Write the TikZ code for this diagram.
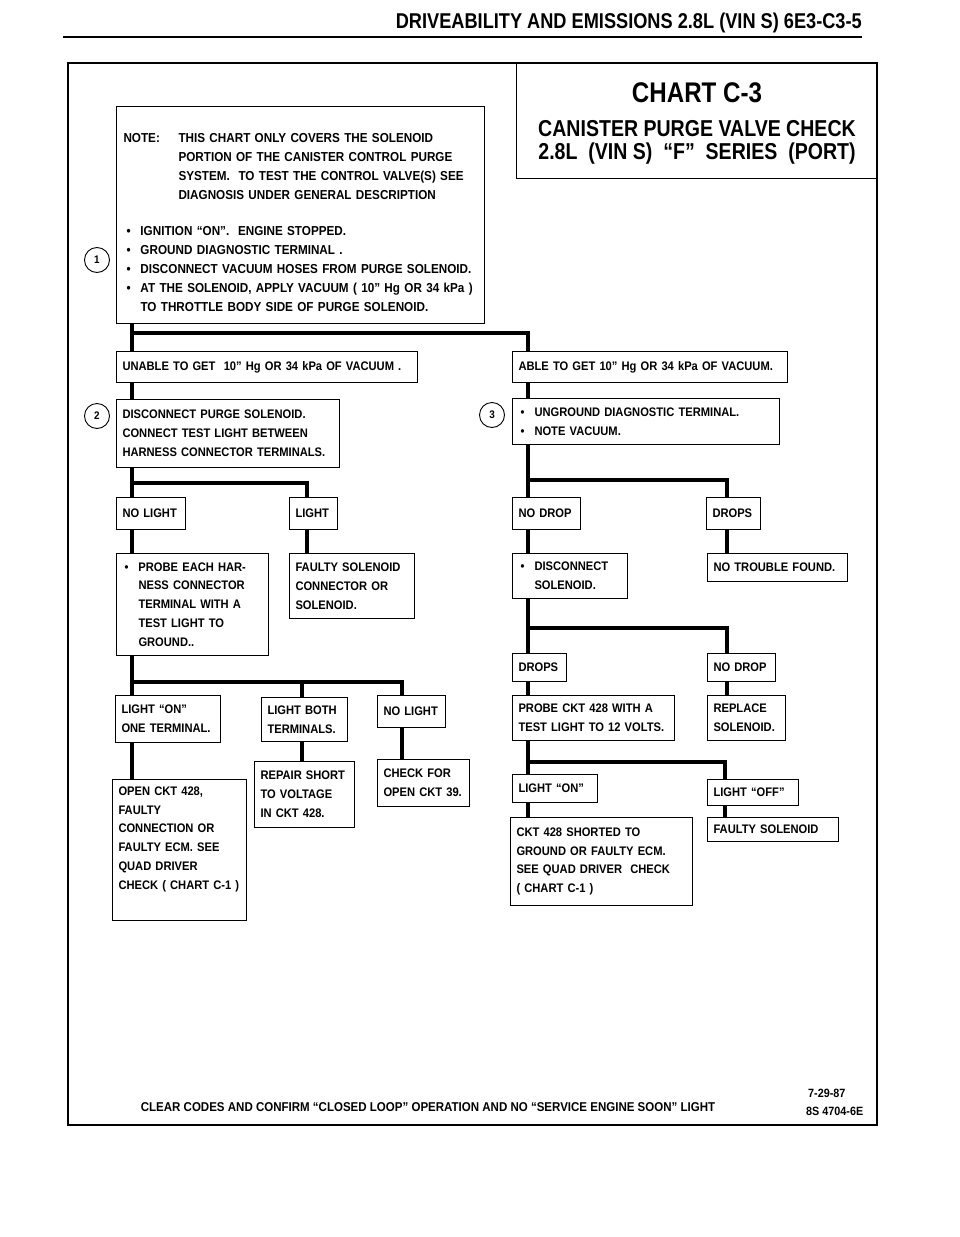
\documentclass[tikz,border=0pt]{standalone}
\usepackage{fontspec}
\newfontfamily\chartfont[FakeStretch=0.9]{Liberation Sans}
\newfontfamily\headfont[FakeStretch=0.85]{Liberation Sans}
\usetikzlibrary{positioning, calc}

\newcommand{\boxfont}{\chartfont\bfseries\fontsize{12.4}{18.8}\selectfont}
\newcommand{\bul}{\makebox[16pt][l]{\hspace{2pt}\textbullet}}
\newcommand{\ind}{\hspace*{16pt}}

\tikzset{
  chartbox/.style={draw, line width=1pt, anchor=north west, align=left,
                   inner xsep=6pt, inner ysep=0pt, font=\boxfont},
  trunk/.style={line width=3.4pt},
  stepno/.style={draw, circle, line width=0.9pt, minimum size=25pt, inner sep=0pt,
                 font=\chartfont\bfseries\fontsize{11}{11}\selectfont},
}

\begin{document}
\begin{tikzpicture}[x=1pt, y=-1pt]
\useasboundingbox (0,0) rectangle (960,1237);

% page head
\node[anchor=base east, inner sep=0pt, font=\headfont\bfseries\fontsize{21.4}{22}\selectfont] (head) at (862,28) {DRIVEABILITY AND EMISSIONS 2.8L (VIN S) 6E3-C3-5};
\draw[line width=2pt] (63,37) -- (862,37);

% frame and title
\draw[line width=1.4pt] (68,63) rectangle (877,1125);
\node[draw, line width=1.2pt, anchor=north west, minimum width=361pt, minimum height=115pt] (title) at (516,63) {};
\node[inner sep=0pt, font=\headfont\bfseries\fontsize{28.4}{30}\selectfont] (chart) at (697,93) {CHART C-3};
\node[inner sep=0pt, font=\headfont\bfseries\fontsize{23}{24}\selectfont] (purge) at (697,129) {CANISTER PURGE VALVE CHECK};
\node[inner sep=0pt, font=\headfont\bfseries\fontsize{23}{24}\selectfont] (series) at (697,154) {2.8L~ (VIN S)~ “F”~ SERIES~ (PORT)};

% first steps
\node[chartbox, inner xsep=7pt, text width=354pt, minimum height=217pt,
      font=\chartfont\bfseries\fontsize{13}{18.8}\selectfont] (note) at (116,106) {%
  \rule{0pt}{24pt}\makebox[55pt][l]{NOTE:}THIS CHART ONLY COVERS THE SOLENOID\\
  \hspace*{55pt}PORTION OF THE CANISTER CONTROL PURGE\\
  \hspace*{55pt}SYSTEM.~~TO TEST THE CONTROL VALVE(S) SEE\\
  \hspace*{55pt}DIAGNOSIS UNDER GENERAL DESCRIPTION\\[18pt]
  \makebox[17pt][l]{\hspace{3pt}\textbullet}IGNITION “ON”.~~ENGINE STOPPED.\\
  \makebox[17pt][l]{\hspace{3pt}\textbullet}GROUND DIAGNOSTIC TERMINAL .\\
  \makebox[17pt][l]{\hspace{3pt}\textbullet}DISCONNECT VACUUM HOSES FROM PURGE SOLENOID.\\
  \makebox[17pt][l]{\hspace{3pt}\textbullet}AT THE SOLENOID, APPLY VACUUM ( 10” Hg OR 34 kPa )\\
  \hspace*{17pt}TO THROTTLE BODY SIDE OF PURGE SOLENOID.};
\node[stepno] (s1) at (97,260) {1};

\node[chartbox, text width=289pt, minimum height=31pt] (unable) at (116,351) {UNABLE TO GET~~10” Hg OR 34 kPa OF VACUUM .};
\node[chartbox, text width=263pt, minimum height=31pt] (able) at (512,351) {ABLE TO GET 10” Hg OR 34 kPa OF VACUUM.};

\node[chartbox, text width=211pt, minimum height=68pt] (discpurge) at (116,399) {DISCONNECT PURGE SOLENOID.\\ CONNECT TEST LIGHT BETWEEN\\ HARNESS CONNECTOR TERMINALS.};
\node[stepno] (s2) at (97,416) {2};
\node[chartbox, text width=255pt, minimum height=46pt] (unground) at (512,398) {\bul UNGROUND DIAGNOSTIC TERMINAL.\\ \bul NOTE VACUUM.};
\node[stepno] (s3) at (492,415) {3};

% left side
\node[chartbox, text width=57pt, minimum height=32pt] (nolight1) at (116,497) {NO LIGHT};
\node[chartbox, text width=36pt, minimum height=32pt] (light1) at (289,497) {LIGHT};
\node[chartbox, text width=140pt, minimum height=102pt] (probeeach) at (116,553) {\bul PROBE EACH HAR-\\ \ind NESS CONNECTOR\\ \ind TERMINAL WITH A\\ \ind TEST LIGHT TO\\ \ind GROUND..};
\node[chartbox, text width=113pt, minimum height=65pt] (faultysol) at (289,553) {FAULTY SOLENOID\\ CONNECTOR OR\\ SOLENOID.};

\node[chartbox, text width=93pt, minimum height=47pt] (lighton1) at (115,695) {LIGHT “ON”\\ ONE TERMINAL.};
\node[chartbox, text width=74pt, minimum height=44pt] (lightboth) at (261,697) {LIGHT BOTH\\ TERMINALS.};
\node[chartbox, text width=56pt, minimum height=32pt] (nolight2) at (377,695) {NO LIGHT};
\node[chartbox, text width=122pt, minimum height=141pt, text depth=118pt] (openckt) at (112,779) {OPEN CKT 428,\\ FAULTY\\ CONNECTION OR\\ FAULTY ECM. SEE\\ QUAD DRIVER\\ CHECK ( CHART C-1 )};
\node[chartbox, text width=88pt, minimum height=66pt] (repair) at (254,761) {REPAIR SHORT\\ TO VOLTAGE\\ IN CKT 428.};
\node[chartbox, text width=80pt, minimum height=47pt] (checkfor) at (377,759) {CHECK FOR\\ OPEN CKT 39.};

% right side
\node[chartbox, text width=56pt, minimum height=32pt] (nodrop1) at (512,497) {NO DROP};
\node[chartbox, text width=42pt, minimum height=32pt] (drops1) at (706,497) {DROPS};
\node[chartbox, text width=103pt, minimum height=45pt] (discsol) at (512,553) {\bul DISCONNECT\\ \ind SOLENOID.};
\node[chartbox, text width=128pt, minimum height=28pt] (notrouble) at (707,553) {NO TROUBLE FOUND.};

\node[chartbox, text width=42pt, minimum height=28pt] (drops2) at (512,653) {DROPS};
\node[chartbox, text width=56pt, minimum height=28pt] (nodrop2) at (707,653) {NO DROP};
\node[chartbox, text width=150pt, minimum height=45pt] (probeckt) at (512,695) {PROBE CKT 428 WITH A\\ TEST LIGHT TO 12 VOLTS.};
\node[chartbox, text width=66pt, minimum height=45pt] (replace) at (707,695) {REPLACE\\ SOLENOID.};
\node[chartbox, text width=73pt, minimum height=28pt] (lighton2) at (512,774) {LIGHT “ON”};
\node[chartbox, text width=79pt, minimum height=26pt] (lightoff) at (707,779) {LIGHT “OFF”};
\node[chartbox, text width=170pt, minimum height=88pt] (shorted) at (510,817) {CKT 428 SHORTED TO\\ GROUND OR FAULTY ECM.\\ SEE QUAD DRIVER~ CHECK\\ ( CHART C-1 )};
\node[chartbox, text width=119pt, minimum height=24pt] (faultysol2) at (707,817) {FAULTY SOLENOID};

% bars
\coordinate (b1) at (132,333);
\coordinate (b2) at (132,483);
\coordinate (b3) at (528,480);
\coordinate (b4) at (132,682);
\coordinate (b5) at (528,628);
\coordinate (b6) at (528,762);

% connectors, left
\draw[trunk] (note.south -| b1) -- (unable.north -| b1);
\draw[trunk] (b1) -| ([xshift=16pt]able.north west);
\draw[trunk] (unable.south -| b1) -- (discpurge.north -| b1);
\draw[trunk] (discpurge.south -| b2) -- (nolight1.north -| b2);
\draw[trunk] (b2) -| ([xshift=18pt]light1.north west);
\draw[trunk] ([xshift=18pt]light1.south west) -- ([xshift=18pt]light1.south west |- faultysol.north);
\draw[trunk] (nolight1.south -| b2) -- (probeeach.north -| b2);
\draw[trunk] (probeeach.south -| b4) -- (lighton1.north -| b4);
\draw[trunk] (b4) -| ([xshift=25pt]nolight2.north west);
\draw[trunk] ([xshift=41pt]lightboth.north west) -- ([xshift=41pt]lightboth.north west |- b4);
\draw[trunk] (lighton1.south -| b4) -- (openckt.north -| b4);
\draw[trunk] ([xshift=41pt]lightboth.south west) -- ([xshift=41pt]lightboth.south west |- repair.north);
\draw[trunk] ([xshift=25pt]nolight2.south west) -- ([xshift=25pt]nolight2.south west |- checkfor.north);

% connectors, right
\draw[trunk] (able.south -| b3) -- (unground.north -| b3);
\draw[trunk] (unground.south -| b3) -- (nodrop1.north -| b3);
\draw[trunk] (b3) -| ([xshift=21pt]drops1.north west);
\draw[trunk] ([xshift=21pt]drops1.south west) -- ([xshift=21pt]drops1.south west |- notrouble.north);
\draw[trunk] (nodrop1.south -| b3) -- (discsol.north -| b3);
\draw[trunk] (discsol.south -| b5) -- (drops2.north -| b5);
\draw[trunk] (b5) -| ([xshift=20pt]nodrop2.north west);
\draw[trunk] ([xshift=20pt]nodrop2.south west) -- ([xshift=20pt]nodrop2.south west |- replace.north);
\draw[trunk] (drops2.south -| b5) -- (probeckt.north -| b5);
\draw[trunk] (probeckt.south -| b6) -- (lighton2.north -| b6);
\draw[trunk] (b6) -| ([xshift=18pt]lightoff.north west);
\draw[trunk] ([xshift=18pt]lightoff.south west) -- ([xshift=18pt]lightoff.south west |- faultysol2.north);
\draw[trunk] (lighton2.south -| b6) -- (shorted.north -| b6);

% foot
\node[anchor=base, inner sep=0pt, font=\chartfont\bfseries\fontsize{12.8}{13}\selectfont] (clear) at (428,1111) {CLEAR CODES AND CONFIRM “CLOSED LOOP” OPERATION AND NO “SERVICE ENGINE SOON” LIGHT};
\node[anchor=base west, inner sep=0pt, font=\chartfont\bfseries\fontsize{12}{12}\selectfont] (date) at (808,1097) {7-29-87};
\node[anchor=base west, inner sep=0pt, font=\chartfont\bfseries\fontsize{12}{12}\selectfont] (code) at (806,1115) {8S 4704-6E};
\end{tikzpicture}
\end{document}
